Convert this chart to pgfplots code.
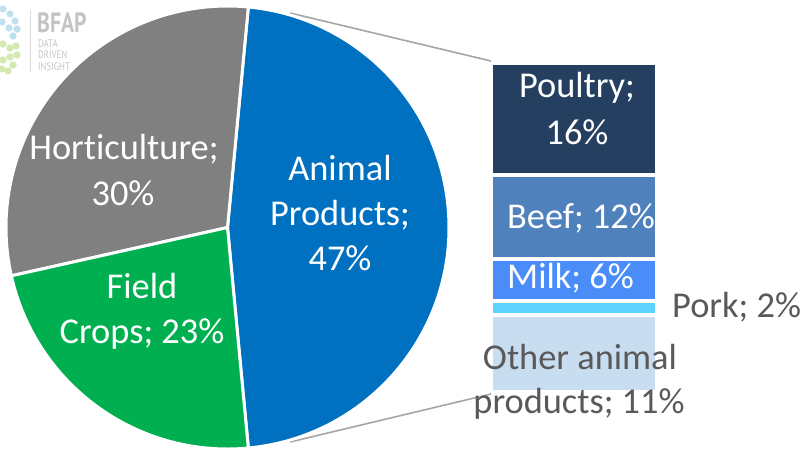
\documentclass[border=0pt]{standalone}
\usepackage{pgfplots}
\pgfplotsset{compat=1.18}
\usepackage{fontspec}
\setmainfont[Ligatures={NoCommon,NoDiscretionary}]{Carlito}
\newfontfamily\logofont{PT Sans}
\definecolor{cBlue}{HTML}{0070C0}
\definecolor{cGray}{HTML}{808080}
\definecolor{cGreen}{HTML}{00B050}
\definecolor{cPoultry}{HTML}{243F60}
\definecolor{cBeef}{HTML}{4F81BD}
\definecolor{cMilk}{HTML}{4A8CF8}
\definecolor{cPork}{HTML}{5FD3FF}
\definecolor{cOther}{HTML}{C9DDF1}
\definecolor{cText}{HTML}{595959}
\definecolor{cLine}{HTML}{A6A6A6}
\definecolor{cLogo}{HTML}{C4C4C4}
\definecolor{cDotB}{HTML}{BFE1EE}
\definecolor{cDotG}{HTML}{D3E9B0}
% pie data (percent)
\def\valAnimal{47}
\def\valHort{30}
\def\valField{23}
\begin{document}
\begin{tikzpicture}
\pgfmathsetmacro{\sA}{-\valAnimal*1.8}
\pgfmathsetmacro{\eA}{\sA+\valAnimal*3.6}
\pgfmathsetmacro{\eH}{\eA+\valHort*3.6}
\pgfmathsetmacro{\eF}{\eH+\valField*3.6}
% ---------- stacked bar (animal products breakdown) ----------
\begin{axis}[
  at={(492bp,58bp)}, anchor=south west,
  scale only axis, width=164bp, height=329bp,
  xmin=-0.5, xmax=0.5, ymin=0, ymax=47,
  hide axis, clip=false,
  ybar stacked, bar width=166bp,
  every axis plot/.append style={draw=white, line width=3.5bp},
]
\addplot[fill=cOther] coordinates {(0,11)};
\addplot[fill=cPork] coordinates {(0,2)};
\addplot[fill=cMilk] coordinates {(0,6)};
\addplot[fill=cBeef] coordinates {(0,12)};
\addplot[fill=cPoultry] coordinates {(0,16)};
\end{axis}
% ---------- pie + labels (pixel coordinates) ----------
\begin{axis}[
  at={(0,0)}, anchor=south west,
  scale only axis, width=803bp, height=450bp,
  xmin=0, xmax=803, ymin=0, ymax=450, y dir=reverse,
  hide axis, clip=false,
]
% logo
\addplot[only marks, mark=*, mark size=3.4bp, mark options={draw=cDotB, fill=cDotB}] coordinates {(3,9) (10,14) (15,21) (17,29) (9,28) (2,22) (13,36)};
\addplot[only marks, mark=*, mark size=3.4bp, mark options={draw=cDotG, fill=cDotG}] coordinates {(3,44) (10,48) (16,46) (17,55) (10,57) (3,60) (2,69) (13,65) (8,71)};
\draw[cLogo!60, line width=0.8bp] (axis cs:30,10) -- (axis cs:30,72);
\node[anchor=base west, inner sep=0, text=cLogo, font=\logofont\bfseries\fontsize{28}{28}\selectfont, xscale=0.78] at (axis cs:37,32) {BFAP};
\node[anchor=base west, inner sep=0, text=cLogo, font=\logofont\fontsize{11}{11}\selectfont, xscale=0.8] at (axis cs:38,47) {DATA};
\node[anchor=base west, inner sep=0, text=cLogo, font=\logofont\fontsize{11}{11}\selectfont, xscale=0.8] at (axis cs:38,58.5) {DRIVEN};
\node[anchor=base west, inner sep=0, text=cLogo, font=\logofont\fontsize{11}{11}\selectfont, xscale=0.8] at (axis cs:38,70) {INSIGHT};
% connector lines
\draw[cLine, line width=1.6bp] (axis cs:290,13) -- (axis cs:491,61);
\draw[cLine, line width=1.6bp] (axis cs:290,442) -- (axis cs:491,394);
% pie slices
\fill[cBlue, draw=white, line width=3bp] (axis cs:227.5,227.5) -- ++(\sA:221.5bp) arc[start angle=\sA, end angle=\eA, radius=221.5bp] -- cycle;
\fill[cGray, draw=white, line width=3bp] (axis cs:227.5,227.5) -- ++(\eA:221.5bp) arc[start angle=\eA, end angle=\eH, radius=221.5bp] -- cycle;
\fill[cGreen, draw=white, line width=3bp] (axis cs:227.5,227.5) -- ++(\eH:221.5bp) arc[start angle=\eH, end angle=\eF, radius=221.5bp] -- cycle;
% labels
\tikzset{lab/.style={inner sep=0, font=\fontsize{36.5}{44}\selectfont}}
\node[lab, anchor=base, text=white] at (axis cs:124,159) {Horticulture;};
\node[lab, anchor=base, text=white] at (axis cs:123,205) {30\%};
\node[lab, anchor=base, text=white] at (axis cs:340,180) {Animal};
\node[lab, anchor=base, text=white] at (axis cs:340,225) {Products;};
\node[lab, anchor=base, text=white] at (axis cs:340,270) {47\%};
\node[lab, anchor=base, text=white] at (axis cs:142,298) {Field};
\node[lab, anchor=base, text=white] at (axis cs:142,343) {Crops; 23\%};
\node[lab, anchor=base, text=white] at (axis cs:577,97) {Poultry;};
\node[lab, anchor=base, text=white] at (axis cs:577,144) {16\%};
\node[lab, anchor=base west, text=white] at (axis cs:507,228) {Beef; 12\%};
\node[lab, anchor=base west, text=white] at (axis cs:507,288) {Milk; 6\%};
\node[lab, anchor=base west, text=cText] at (axis cs:672,317) {Pork; 2\%};
\node[lab, anchor=base, text=cText] at (axis cs:580,369) {Other animal};
\node[lab, anchor=base, text=cText] at (axis cs:579,413) {products; 11\%};
\end{axis}
\pgfresetboundingbox
\useasboundingbox (0,0) rectangle (803bp,450bp);
\end{tikzpicture}
\end{document}
